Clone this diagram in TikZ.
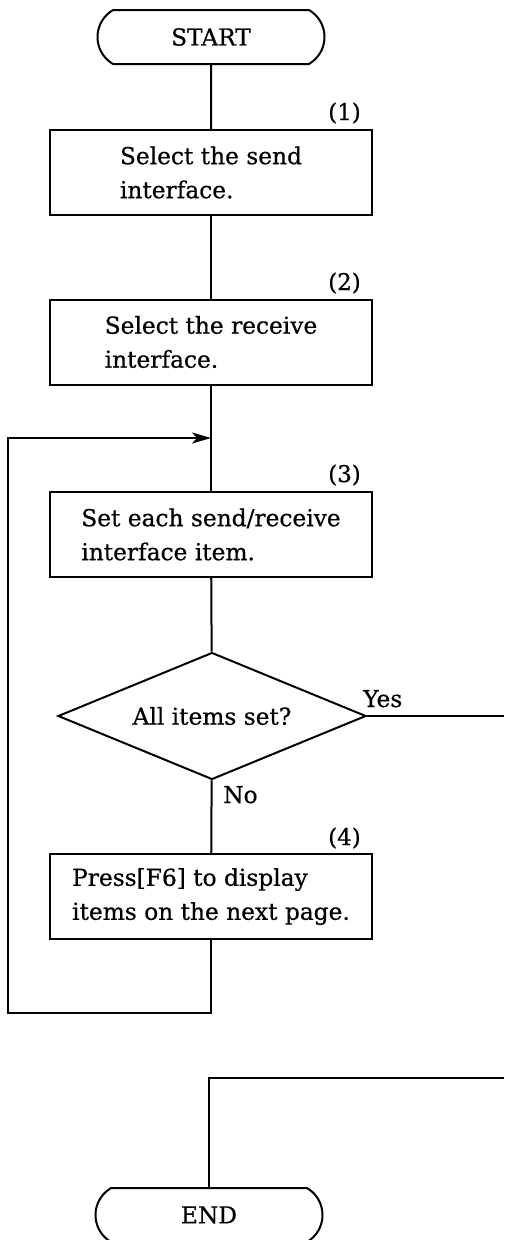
\documentclass[tikz,border=0pt]{standalone}
\usepackage{fontspec}
\setmainfont{DejaVu Serif}[FakeBold=0.6]
\usetikzlibrary{shapes.geometric,shapes.misc,arrows.meta}
\begin{document}
\begin{tikzpicture}[x=1pt,y=-1pt,
  every node/.style={font=\fontsize{23.3}{34}\selectfont},
  flow/.style={line width=2pt},
  term/.style={draw, line width=2pt, rounded rectangle, rounded rectangle arc length=120,
    minimum width=227pt, minimum height=54pt, inner sep=0pt},
  proc/.style={draw, line width=2pt, minimum width=322pt, minimum height=85pt,
    align=left, inner sep=0pt},
  decide/.style={draw, line width=2pt, diamond, aspect=2.4,
    minimum width=308pt, minimum height=127pt, inner sep=0pt},
  tag/.style={font=\fontsize{23}{28}\selectfont, anchor=base east, inner sep=0pt},
  answer/.style={anchor=base west, inner sep=0pt},
  tip/.style={-{Stealth[length=19pt,width=11pt,inset=5pt]}}
]
\useasboundingbox (0,0) rectangle (504,1240);

% steps of the procedure
\node[term] (start) at (211,37) {START};
\node[proc] (b1) at (211,172.5) {Select the send\\interface.};
\node[proc] (b2) at (211,342) {Select the receive\\interface.};
\node[proc] (b3) at (211,534.5) {Set each send/receive\\interface item.};
\node[decide] (dec) at (212,716) {All items set?};
\node[proc] (b4) at (211,896.5) {Press[F6] to display\\items on the next page.};
\node[term] (stop) at (209,1215) {END};

% step numbers
\node[tag] (n1) at (361,120) {(1)};
\node[tag] (n2) at (361,290) {(2)};
\node[tag] (n3) at (361,482) {(3)};
\node[tag] (n4) at (361,845) {(4)};

% branch labels
\node[answer] (yes) at (363,707) {Yes};
\node[answer] (no) at (223,803) {No};

% routing points
\coordinate (join) at (211,438);
\coordinate (loopR) at (211,1013);
\coordinate (loopL) at (8,1013);
\coordinate (yesout) at (504,716);
\coordinate (yesin) at (504,1078);

% connectors
\draw[flow] (start) -- (b1);
\draw[flow] (b1) -- (b2);
\draw[flow] (b2) -- (b3);
\draw[flow] (b3) -- (dec);
\draw[flow] (dec) -- (b4);
\draw[flow] (dec.east) -- (yesout);
\draw[flow,tip] (b4.south) -- (loopR) -- (loopL) |- (join);
\draw[flow] (yesin) -| (stop.north);
\end{tikzpicture}
\end{document}
